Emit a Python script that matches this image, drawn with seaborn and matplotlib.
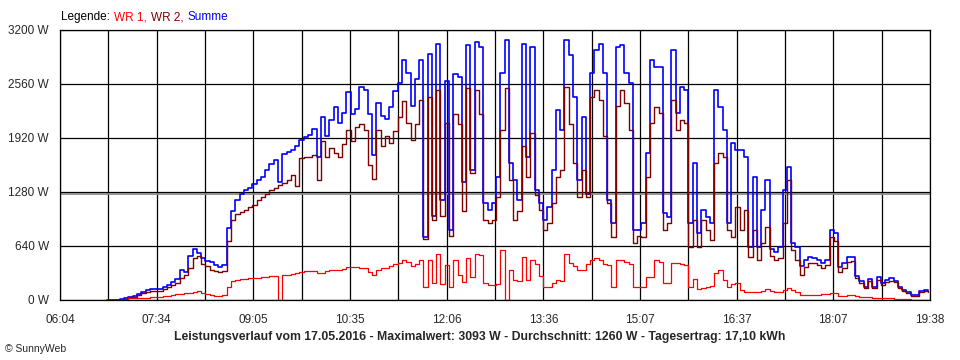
import numpy as np
import pandas as pd
import matplotlib
matplotlib.use("Agg")
import matplotlib.pyplot as plt
import seaborn as sns

# =============================================================================
# DATA  (17.05.2016)
# =============================================================================

# sample grid: minutes after midnight, one reading every 4 min from 06:48
START_MIN = 408
STEP_MIN = 4

# Summe (W)
summe = [
    0, 0, 0, 10, 20, 40, 50, 70, 100, 120,
    125, 130, 130, 160, 180, 210, 250, 350, 330, 520,
    600, 560, 500, 460, 450, 410, 390, 420, 850, 1050,
    1180, 1260, 1300, 1330, 1370, 1420, 1460, 1540, 1610, 1660,
    1400, 1730, 1760, 1780, 1820, 1900, 1930, 1960, 2030, 1700,
    2170, 1940, 2130, 2290, 2100, 2220, 2460, 2200, 2260, 2520,
    2490, 2200, 1720, 2330, 2180, 2140, 2290, 2480, 2570, 2840,
    2690, 2300, 2620, 2840, 750, 2920, 1000, 3040, 1180, 2600,
    830, 2680, 2640, 1400, 3020, 1540, 3060, 3000, 1150, 1070,
    1150, 1460, 2690, 3080, 1620, 1420, 1190, 3040, 1700, 3000,
    1300, 1150, 950, 1100, 1540, 2250, 2015, 3080, 2900, 2410,
    1420, 2170, 1260, 2690, 2960, 3040, 2690, 1185, 910, 3000,
    3020, 2690, 2570, 830, 830, 909, 1740, 2840, 2765, 2765,
    1027, 987, 2963, 2212, 2528, 2489, 909, 1620, 790, 1067,
    987, 909, 2489, 2291, 2015, 909, 1857, 1778, 1778, 1698,
    632, 1461, 632, 1067, 1422, 610, 573, 632, 1304, 1580,
    672, 632, 400, 474, 513, 494, 474, 434, 474, 830,
    790, 395, 440, 513, 513, 290, 230, 160, 250, 160,
    270, 200, 237, 257, 230, 158, 120, 99, 59, 59,
    110, 115, 103,
]

# WR 2 (W)
wr2 = [
    0, 0, 0, 5, 15, 30, 40, 55, 80, 100,
    105, 110, 110, 135, 150, 175, 200, 260, 300, 380,
    500, 520, 430, 400, 360, 345, 335, 340, 700, 950,
    1020, 1045, 1070, 1100, 1130, 1180, 1225, 1260, 1300, 1330,
    1360, 1390, 1420, 1480, 1350, 1680, 1690, 1700, 1720, 1420,
    1890, 1700, 1800, 1740, 1700, 1850, 2010, 1880, 2050, 2090,
    2020, 1600, 1430, 2010, 1820, 1940, 1860, 2000, 2170, 2360,
    2100, 1900, 2090, 2370, 720, 2410, 950, 2490, 1000, 2100,
    760, 2200, 2090, 1060, 2510, 1500, 2490, 2210, 950, 910,
    950, 1225, 2010, 2510, 1420, 950, 1060, 1820, 1460, 1975,
    1250, 1070, 830, 909, 1146, 1460, 1540, 2530, 2090, 1620,
    1225, 1540, 1225, 2410, 2490, 2370, 1940, 1146, 750, 2300,
    2490, 2330, 2015, 672, 760, 750, 1461, 2100, 2291, 2212,
    830, 909, 2370, 2015, 2133, 2093, 632, 948, 632, 948,
    830, 711, 1620, 1738, 1698, 830, 750, 1106, 830, 1067,
    513, 830, 474, 672, 869, 520, 474, 500, 909, 1422,
    592, 474, 300, 395, 434, 434, 410, 375, 410, 750,
    700, 336, 380, 450, 460, 260, 200, 140, 220, 140,
    240, 180, 210, 230, 210, 140, 105, 85, 50, 50,
    100, 105, 95,
]

# WR 1 (W)
wr1 = [
    0, 0, 0, 0, 0, 20, 20, 20, 25, 25,
    30, 35, 40, 45, 50, 60, 70, 75, 80, 85,
    100, 110, 80, 70, 55, 50, 50, 55, 150, 220,
    240, 245, 250, 255, 260, 265, 270, 275, 280, 285,
    0, 295, 300, 310, 320, 335, 340, 345, 340, 320,
    320, 340, 360, 355, 355, 370, 390, 390, 395, 380,
    375, 330, 300, 360, 375, 385, 400, 430, 440, 470,
    450, 400, 430, 470, 150, 470, 200, 550, 190, 420,
    160, 470, 300, 210, 500, 270, 550, 530, 200, 180,
    180, 190, 590, 0, 350, 240, 230, 510, 240, 470,
    430, 280, 160, 160, 200, 240, 230, 550, 440, 400,
    360, 350, 430, 470, 500, 480, 430, 420, 158, 480,
    470, 450, 430, 158, 150, 158, 277, 270, 474, 450,
    198, 198, 434, 434, 430, 420, 158, 250, 130, 140,
    150, 170, 320, 355, 240, 158, 190, 200, 118, 99,
    99, 99, 99, 110, 126, 110, 100, 100, 120, 138,
    120, 90, 59, 59, 59, 62, 65, 67, 70, 79,
    80, 50, 50, 55, 60, 45, 40, 35, 30, 28,
    25, 22, 20, 18, 15, 12, 10, 8, 5, 5,
    3, 2, 0,
]

x_tick_labels = ["06:04", "07:34", "09:05", "10:35", "12:06",
                 "13:36", "15:07", "16:37", "18:07", "19:38"]
y_ticks = [0, 640, 1280, 1920, 2560, 3200]
average_w = 1260

X_MIN, X_MAX = 364, 1178   # 06:04 .. 19:38 in minutes

TITLE = ("Leistungsverlauf vom 17.05.2016 - Maximalwert: 3093 W - "
         "Durchschnitt: 1260 W - Tagesertrag: 17,10 kWh")

# =============================================================================
# PLOT
# =============================================================================

sns.set_style("white")
plt.rcParams["font.family"] = ["Liberation Sans", "DejaVu Sans"]

n = len(summe)
df = pd.DataFrame({
    "minute": START_MIN + STEP_MIN * np.arange(n),
    "WR 1": wr1,
    "WR 2": wr2,
    "Summe": summe,
})

W, H = 960, 360
fig = plt.figure(figsize=(W / 100, H / 100), dpi=100)
ax = fig.add_axes([60 / W, 60 / H, 870 / W, 270 / H])

series = [("Summe", "#0000ff", 3, 1.2), ("WR 2", "#800000", 4, 1.0),
          ("WR 1", "#ff0000", 5, 0.9)]
for col, color, z, lw in series:
    sns.lineplot(data=df, x="minute", y=col, color=color, lw=lw,
                 drawstyle="steps-post", estimator=None, ax=ax, zorder=z)

# average line
ax.axhline(average_w, color="#8a8a8a", lw=1.3, zorder=2)

ax.set_xlim(X_MIN, X_MAX)
ax.set_ylim(0, 3200)
ax.set_xticks(np.linspace(X_MIN, X_MAX, 10))
ax.set_xticklabels(x_tick_labels)
ax.set_xticks(np.linspace(X_MIN, X_MAX, 19), minor=True)
ax.set_yticks(y_ticks)
ax.set_yticklabels([f"{v} W" for v in y_ticks])
ax.set_xlabel("")
ax.set_ylabel("")

ax.grid(True, which="major", color="black", lw=0.9)
ax.xaxis.grid(True, which="minor", color="black", lw=0.9)
ax.set_axisbelow(True)
ax.tick_params(which="both", direction="out", length=5, width=0.9,
               color="black", labelsize=8.5, pad=3)
ax.tick_params(axis="x", pad=5)
for sp in ax.spines.values():
    sp.set_color("black")
    sp.set_linewidth(0.9)


def px(x, y):
    return x / W, 1 - y / H


# legend line, pieces laid out one after another
renderer = fig.canvas.get_renderer()
legend_parts = [("Legende:", "black"), ("WR 1,", "#ff0000"),
                ("WR 2,", "#800000"), ("Summe", "#0000ff")]
x_cur = 61
for txt, color in legend_parts:
    t = fig.text(*px(x_cur, 17), txt, color=color, fontsize=8.5,
                 va="center", ha="left")
    x_cur += t.get_window_extent(renderer).width + 4

fig.text(*px(480, 337), TITLE, ha="center", va="center",
         fontsize=8.8, fontweight="bold")
fig.text(*px(5, 349), "\u00a9 SunnyWeb", ha="left", va="center", fontsize=7.5)

fig.savefig("out.png", dpi=100)
